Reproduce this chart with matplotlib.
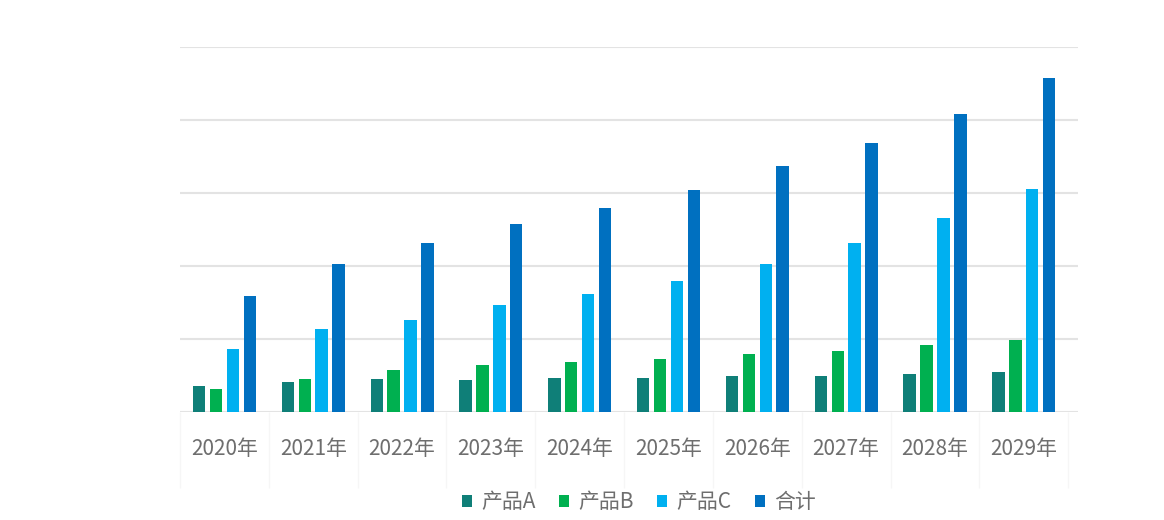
import matplotlib
matplotlib.use("Agg")
import matplotlib.pyplot as plt
import numpy as np
from matplotlib.patches import Patch

plt.rcParams['font.family'] = ['Noto Sans CJK SC', 'DejaVu Sans']

categories = ["2020年", "2021年", "2022年", "2023年", "2024年",
              "2025年", "2026年", "2027年", "2028年", "2029年"]
series_names = ["产品A", "产品B", "产品C", "合计"]
product_a = [35, 41, 45, 44, 47, 47, 49, 49, 52, 55]
product_b = [32, 45, 57, 64, 69, 73, 80, 84, 92, 99]
product_c = [86, 114, 126, 146, 161, 179, 203, 231, 266, 305]
total = [159, 203, 231, 258, 279, 304, 337, 368, 408, 458]
colors = ["#0F7F78", "#00B050", "#00B0F0", "#0070C0"]

W, H = 1164, 520
fig = plt.figure(figsize=(W / 100, H / 100), dpi=100)
ax = fig.add_axes([180 / W, 1 - 412 / H, (1078 - 180) / W, (412 - 47) / H])

x = np.arange(len(categories))
step = 0.19
width = 0.14
for i, (vals, c) in enumerate(zip([product_a, product_b, product_c, total], colors)):
    ax.bar(x + (i - 1.5) * step, vals, width=width, color=c, zorder=3)

ax.set_ylim(0, 500)
ax.set_xlim(-0.5, 9.61)
ax.set_yticks([0, 100, 200, 300, 400, 500])
ax.set_yticklabels([])
ax.tick_params(axis='y', length=0)
ax.grid(axis='y', color='#E3E3E3', linewidth=1.5, zorder=0)
for s in ax.spines.values():
    s.set_visible(False)

ax.set_xticks(x)
ax.set_xticklabels(categories, fontsize=15, color='#6E6E6E')
ax.tick_params(axis='x', length=0, pad=19)
ax.set_xticks(np.arange(-0.5, 10, 1), minor=True)
ax.tick_params(axis='x', which='minor', length=55, color='#F6F6F6', width=1)

handles = [Patch(facecolor=c, edgecolor='none') for c in colors]
leg = fig.legend(handles, series_names, loc='center', bbox_to_anchor=(639 / W, 1 - 502 / H),
                 ncol=4, frameon=False, handlelength=0.5, handleheight=0.5,
                 handletextpad=0.45, columnspacing=1.1,
                 prop={'size': 15})
for t in leg.get_texts():
    t.set_color('#6E6E6E')

fig.savefig("out.png", dpi=100, facecolor='white')
